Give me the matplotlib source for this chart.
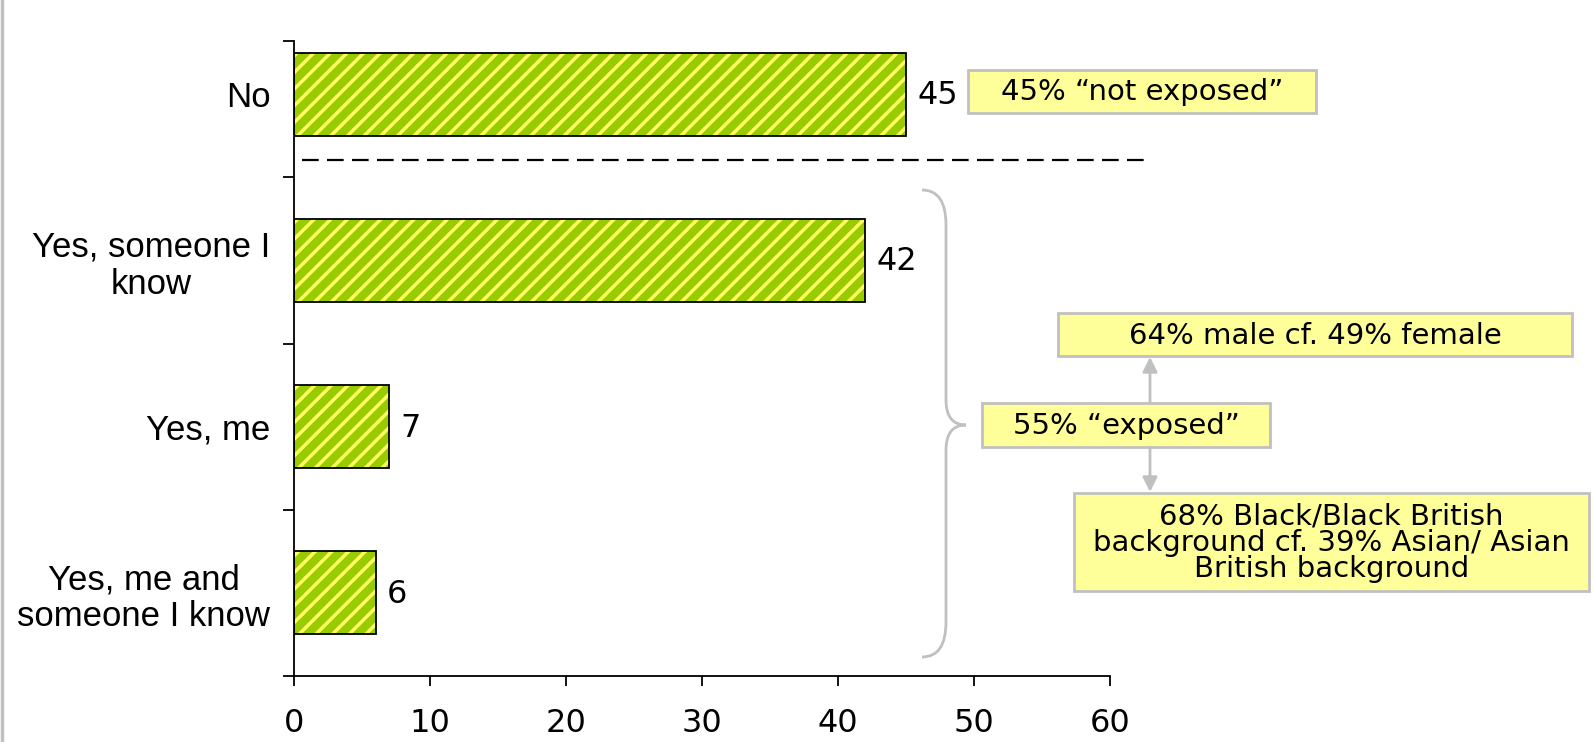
import matplotlib
matplotlib.use("Agg")
import matplotlib.pyplot as plt
from matplotlib.patches import Rectangle, PathPatch
from matplotlib.path import Path
from matplotlib.lines import Line2D

# data
categories = ["No", "Yes, someone I\nknow", "Yes, me", "Yes, me and\nsomeone I know"]
values = [45, 42, 7, 6]
xticks = [0, 10, 20, 30, 40, 50, 60]

# annotation texts
note_not_exposed = "45% \u201cnot exposed\u201d"
note_exposed = "55% \u201cexposed\u201d"
note_gender = "64% male cf. 49% female"
note_ethnic = "68% Black/Black British\nbackground cf. 39% Asian/ Asian\nBritish background"

GREEN = "#99CC00"
STRIPE = "#FFFF66"
NOTE_FILL = "#FFFF99"
NOTE_EDGE = "#C0C0C0"

plt.rcParams["hatch.linewidth"] = 2.5
plt.rcParams["lines.scale_dashes"] = False

W, H = 1594, 742
fig = plt.figure(figsize=(W / 100, H / 100), dpi=100)
ax = fig.add_axes([294 / W, 1 - 676 / H, (1110 - 294) / W, (676 - 41) / H])

ypos = list(range(len(categories)))
# striped fill, then black outline on top
ax.barh(ypos, values, height=0.5, color=GREEN, edgecolor=STRIPE, hatch="//", linewidth=0)
ax.barh(ypos, values, height=0.5, fill=False, edgecolor="black", linewidth=1.3)

for y, v in zip(ypos, values):
    ax.annotate(str(v), (v, y), xytext=(8, -1), textcoords="offset points",
                ha="left", va="center", fontsize=23, family="DejaVu Sans")

top = -0.32
ax.set_ylim(len(categories) - 0.5, top)
ax.set_xlim(0, 60)
ax.set_xticks(xticks)
ax.set_yticks(ypos)
ax.set_yticklabels(categories, fontsize=25, family="Liberation Sans",
                   ha="right", multialignment="center", linespacing=1.15)
ax.set_yticks([top] + [i + 0.5 for i in ypos], minor=True)
ax.tick_params(axis="y", which="major", length=0, pad=17)
ax.tick_params(axis="y", which="minor", length=8, width=1.3, direction="out")
ax.tick_params(axis="x", length=7, width=1.3, direction="out", pad=16, labelsize=23)
for lab in ax.get_xticklabels():
    lab.set_family("DejaVu Sans")
for s in ["top", "right"]:
    ax.spines[s].set_visible(False)
for s in ["left", "bottom"]:
    ax.spines[s].set_linewidth(1.3)

# overlay in pixel coordinates for the notes
ov = fig.add_axes([0, 0, 1, 1], zorder=5)
ov.set_xlim(0, W)
ov.set_ylim(H, 0)
ov.axis("off")
ov.patch.set_alpha(0)

# left grey border
ov.add_line(Line2D([2, 2], [0, H], color="#C0C0C0", lw=2.5))

# dashed separator
ov.add_line(Line2D([302, 1152], [160, 160], color="black", lw=1.6, dashes=(12, 6)))


def note(x0, y0, x1, y1, txt):
    ov.add_patch(Rectangle((x0, y0), x1 - x0, y1 - y0, facecolor=NOTE_FILL,
                           edgecolor=NOTE_EDGE, lw=2))
    ov.text((x0 + x1) / 2, (y0 + y1) / 2 + 1, txt, ha="center", va="center",
            fontsize=21, family="DejaVu Sans", linespacing=0.92)


note(968, 70, 1316, 113, note_not_exposed)
note(1058, 313, 1572, 356, note_gender)
note(982, 403, 1270, 447, note_exposed)
note(1074, 493, 1589, 591, note_ethnic)

# arrows from the exposed box
ov.annotate("", xy=(1150, 357), xytext=(1150, 403),
            arrowprops=dict(arrowstyle="-|>", color="#C0C0C0", lw=2, mutation_scale=22,
                            shrinkA=0, shrinkB=0))
ov.annotate("", xy=(1150, 492), xytext=(1150, 447),
            arrowprops=dict(arrowstyle="-|>", color="#C0C0C0", lw=2, mutation_scale=22,
                            shrinkA=0, shrinkB=0))

# curly brace
verts = [(922, 190), (946, 190), (946, 225),
         (946, 400),
         (946, 425), (966, 425),
         (946, 425), (946, 450),
         (946, 622),
         (946, 657), (922, 657)]
codes = [Path.MOVETO, Path.CURVE3, Path.CURVE3,
         Path.LINETO,
         Path.CURVE3, Path.CURVE3,
         Path.CURVE3, Path.CURVE3,
         Path.LINETO,
         Path.CURVE3, Path.CURVE3]
ov.add_patch(PathPatch(Path(verts, codes), fill=False, edgecolor="#C0C0C0", lw=2))

fig.savefig("out.png", dpi=100)
